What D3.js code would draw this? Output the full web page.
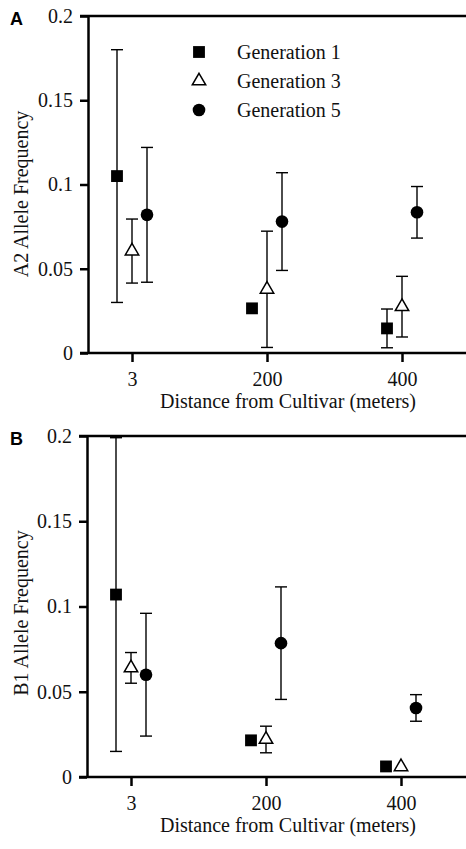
<!DOCTYPE html>
<html>
<head>
<meta charset="utf-8">
<script src="https://cdn.jsdelivr.net/npm/d3@7"></script>
<style>
  body { margin: 0; background: #fff; }
  svg { display: block; }
  svg text { font-family: "Liberation Serif", "Times New Roman", serif; }
  svg text.panel-label { font-family: "Liberation Sans", Arial, sans-serif; }
</style>
</head>
<body>
<script>
// categories and series
var distances = ["3", "200", "400"];
var generations = ["Generation 1", "Generation 3", "Generation 5"];
var yTicks = [0, 0.05, 0.1, 0.15, 0.2];
var yTickLabels = ["0", "0.05", "0.1", "0.15", "0.2"];

// panel A: A2 allele
var a2Gen1 = [0.105, 0.0265, 0.0146];
var a2Gen1Err = [0.075, 0, 0.0115];
var a2Gen3 = [0.0605, 0.0378, 0.0275];
var a2Gen3Err = [0.019, 0.0345, 0.018];
var a2Gen5 = [0.082, 0.078, 0.0835];
var a2Gen5Err = [0.040, 0.029, 0.0153];

// panel B: B1 allele
var b1Gen1 = [0.107, 0.0215, 0.0062];
var b1Gen1Err = [0.092, 0, 0];
var b1Gen3 = [0.064, 0.022, 0.006];
var b1Gen3Err = [0.009, 0.0078, 0];
var b1Gen5 = [0.06, 0.0785, 0.0405];
var b1Gen5Err = [0.036, 0.033, 0.0078];

var W = 466, H = 849;
var svg = d3.select("body").append("svg")
  .attr("width", W).attr("height", H);

var shapes = [d3.symbolSquare, d3.symbolTriangle, d3.symbolCircle];
var shapeSize = [140, 78, 125];
var shift = [-15, 0, 15];

function panel(o) {
  var g = svg.append("g");
  var y = d3.scaleLinear().domain([0, 0.2]).range([o.bottom, o.top]);
  var x = d3.scalePoint().domain(distances).range([o.left + 44, o.left + 314]);

  // top frame line and baseline
  g.append("line").attr("x1", o.left - 8).attr("x2", W)
    .attr("y1", y(0.2)).attr("y2", y(0.2))
    .attr("stroke", "#000").attr("stroke-width", 2.5);
  g.append("line").attr("x1", o.left - 8).attr("x2", W)
    .attr("y1", y(0)).attr("y2", y(0))
    .attr("stroke", "#000").attr("stroke-width", 2.5);

  var ya = g.append("g").attr("transform", "translate(" + o.left + ",0)")
    .call(d3.axisLeft(y).tickValues(yTicks).tickSize(8).tickSizeOuter(0)
      .tickFormat(function(d, i) { return yTickLabels[i]; }))
    .attr("font-size", 20);
  ya.select(".domain").attr("stroke-width", 2.5);
  ya.selectAll(".tick line").attr("stroke-width", 2.5);
  ya.selectAll("text").attr("fill", "#111").attr("x", -15);

  var xa = g.append("g").attr("transform", "translate(0," + o.bottom + ")")
    .call(d3.axisBottom(x).tickSize(9).tickSizeOuter(0))
    .attr("font-size", 20);
  xa.select(".domain").remove();
  xa.selectAll(".tick line").attr("stroke-width", 2.5);
  xa.selectAll("text").attr("fill", "#111").attr("y", 19);

  g.append("text").attr("x", 288).attr("y", o.bottom + 55)
    .attr("text-anchor", "middle").attr("font-size", 20).attr("fill", "#111")
    .text("Distance from Cultivar (meters)");

  g.append("text")
    .attr("transform", "translate(28," + o.titleY + ") rotate(-90)")
    .attr("text-anchor", "middle").attr("font-size", 20).attr("fill", "#111")
    .text(o.yTitle);

  g.append("text").attr("class", "panel-label").attr("x", 10).attr("y", o.top + 9)
    .attr("font-weight", "bold").attr("font-size", 18).text(o.label);

  o.series.forEach(function(s, si) {
    var pts = distances.map(function(d, i) {
      return { d: d, v: s.vals[i], e: s.errs[i] };
    });
    var sg = g.append("g");
    var eb = sg.selectAll("g.err").data(pts.filter(function(p) { return p.e > 0; }))
      .enter().append("g").attr("class", "err")
      .attr("stroke", "#000").attr("stroke-width", 1.4);
    eb.append("line")
      .attr("x1", function(p) { return x(p.d) + shift[si]; })
      .attr("x2", function(p) { return x(p.d) + shift[si]; })
      .attr("y1", function(p) { return y(p.v + p.e); })
      .attr("y2", function(p) { return y(p.v - p.e); });
    [1, -1].forEach(function(sign) {
      eb.append("line")
        .attr("x1", function(p) { return x(p.d) + shift[si] - 6; })
        .attr("x2", function(p) { return x(p.d) + shift[si] + 6; })
        .attr("y1", function(p) { return y(p.v + sign * p.e); })
        .attr("y2", function(p) { return y(p.v + sign * p.e); });
    });
    sg.selectAll("path.mark").data(pts).enter().append("path")
      .attr("class", "mark")
      .attr("d", d3.symbol().type(shapes[si]).size(shapeSize[si]))
      .attr("transform", function(p) {
        return "translate(" + (x(p.d) + shift[si]) + "," + y(p.v) + ")";
      })
      .attr("fill", si === 1 ? "#fff" : "#000")
      .attr("stroke", "#000").attr("stroke-width", si === 1 ? 1.5 : 0);
  });
}

panel({
  left: 88, top: 16, bottom: 353, label: "A", yTitle: "A2 Allele Frequency", titleY: 194,
  series: [
    { vals: a2Gen1, errs: a2Gen1Err },
    { vals: a2Gen3, errs: a2Gen3Err },
    { vals: a2Gen5, errs: a2Gen5Err }
  ]
});

panel({
  left: 87, top: 436, bottom: 777, label: "B", yTitle: "B1 Allele Frequency", titleY: 613,
  series: [
    { vals: b1Gen1, errs: b1Gen1Err },
    { vals: b1Gen3, errs: b1Gen3Err },
    { vals: b1Gen5, errs: b1Gen5Err }
  ]
});

// legend (panel A)
var legend = svg.append("g").attr("transform", "translate(199,52)");
generations.forEach(function(name, i) {
  var row = legend.append("g").attr("transform", "translate(0," + (i * 29) + ")");
  row.append("path")
    .attr("d", d3.symbol().type(shapes[i]).size(shapeSize[i]))
    .attr("fill", i === 1 ? "#fff" : "#000")
    .attr("stroke", "#000").attr("stroke-width", i === 1 ? 1.5 : 0);
  row.append("text").attr("x", 38).attr("y", 7)
    .attr("font-size", 20).attr("fill", "#111").text(name);
});
</script>
</body>
</html>
